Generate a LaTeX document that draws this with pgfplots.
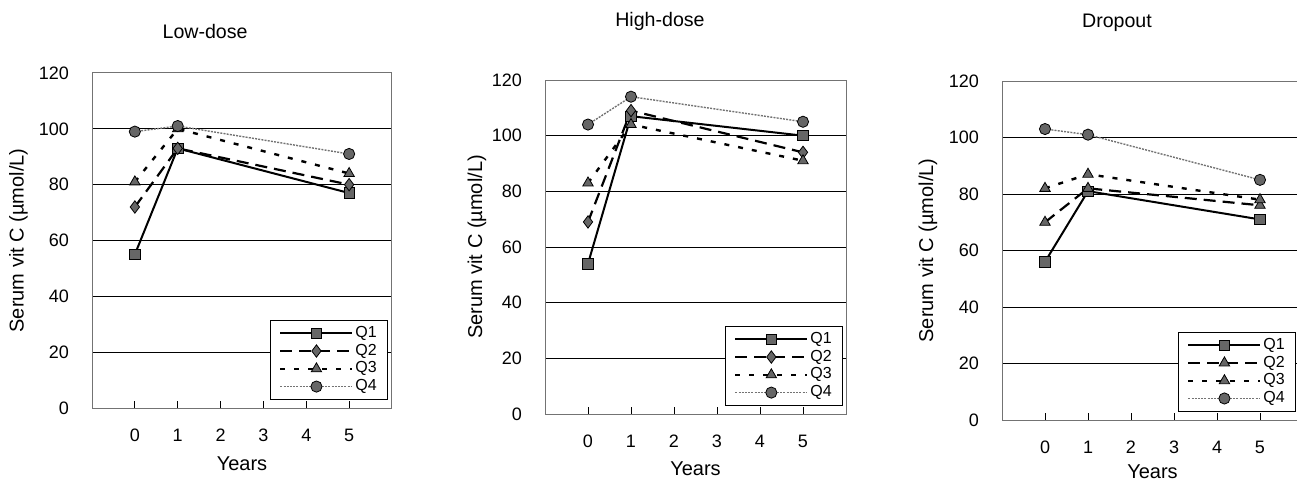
\documentclass[border=0pt]{standalone}
\usepackage{fontspec}
\setmainfont{Liberation Sans}
\usepackage{pgfplots}
\pgfplotsset{compat=1.18}

\pgfplotsset{
  vitc/.style={
    scale only axis, width=150pt, height=167.5pt,
    xmin=-1, xmax=6, ymin=0, ymax=120,
    xtick={0,...,5}, ytick={0,20,...,120},
    ymajorgrids, grid style={black, line width=0.5pt},
    axis line style={black!55, line width=0.5pt},
    tick align=inside, tick pos=left, major tick length=3.5pt,
    ytick style={draw=none}, xtick style={black, line width=0.5pt},
    tick label style={font=\fontsize{9}{10}\selectfont},
    /pgf/number format/assume math mode=true,
    xticklabel style={yshift=-7pt},
    yticklabel style={xshift=-8pt},
    label style={font=\fontsize{10}{11}\selectfont},
    xlabel=Years,
    xlabel style={at={(axis description cs:0.5,-0.165)}, anchor=center},
    ylabel={Serum vit C (µmol/L)},
    every axis title shift=0pt,
    title style={font=\fontsize{9.8}{11}\selectfont, anchor=center, yshift=0pt},
    legend cell align=left,
    legend style={draw=black, line width=0.5pt, font=\fontsize{8}{8.5}\selectfont,
      anchor=south east, nodes={inner sep=0.9pt}, row sep=0pt,
      inner xsep=4.5pt, inner ysep=2pt},
    legend image code/.code={\draw[mark repeat=2,mark phase=2,##1]
      plot coordinates {(0pt,0pt) (18pt,0pt) (36pt,0pt)};},
  },
  q1/.style={black, line width=1pt, mark=square*, mark size=2.6pt,
    mark options={solid, fill=black!60, draw=black, line width=0.4pt}},
  q2/.style={black, line width=1.1pt, dash pattern=on 6pt off 3.5pt, mark=diamond*, mark size=3.1pt,
    mark options={solid, fill=black!60, draw=black, line width=0.4pt}},
  q3/.style={black, line width=1.2pt, dash pattern=on 2.5pt off 4.5pt, mark=triangle*, mark size=3pt,
    mark options={solid, fill=black!60, draw=black, line width=0.4pt}},
  q4/.style={black!55, line width=0.7pt, dash pattern=on 1pt off 0.6pt, mark=*, mark size=2.8pt,
    mark options={solid, fill=black!60, draw=black, line width=0.4pt}},
}

\begin{document}
\begin{tikzpicture}
\useasboundingbox (0,0) rectangle (648.5pt,241.5pt);
\clip (0,0) rectangle (648.5pt,241.5pt);

% Low-dose
\begin{axis}[vitc, at={(46pt,37.5pt)}, anchor=south west,
    width=150pt, height=167.5pt,
    title={Low-dose}, title style={at={(axis description cs:0.377,1.125)}},
    ylabel style={at={(axis description cs:-0.245,0.5)}, anchor=center},
    legend style={at={(axis description cs:0.987,0.024)}}]
  \addplot[q1] coordinates {(0,55) (1,93) (5,77)};
  \addplot[q2] coordinates {(0,72) (1,93) (5,80)};
  \addplot[q3] coordinates {(0,81) (1,100) (5,84)};
  \addplot[q4] coordinates {(0,99) (1,101) (5,91)};
  \legend{Q1,Q2,Q3,Q4}
\end{axis}

% High-dose
\begin{axis}[vitc, at={(272.5pt,34.5pt)}, anchor=south west,
    width=150.5pt, height=167pt,
    title={High-dose}, title style={at={(axis description cs:0.382,1.174)}},
    ylabel style={at={(axis description cs:-0.226,0.5)}, anchor=center},
    legend style={at={(axis description cs:0.990,0.024)}}]
  \addplot[q1] coordinates {(0,54) (1,107) (5,100)};
  \addplot[q2] coordinates {(0,69) (1,109) (5,94)};
  \addplot[q3] coordinates {(0,83) (1,104) (5,91)};
  \addplot[q4] coordinates {(0,104) (1,114) (5,105)};
  \legend{Q1,Q2,Q3,Q4}
\end{axis}

% Dropout
\begin{axis}[vitc, at={(501pt,31.5pt)}, anchor=south west,
    width=150.5pt, height=169.5pt,
    title={Dropout}, title style={at={(axis description cs:0.382,1.171)}},
    xlabel style={at={(axis description cs:0.5,-0.152)}},
    ylabel style={at={(axis description cs:-0.246,0.5)}, anchor=center},
    legend style={at={(axis description cs:0.977,0.024)}}]
  \addplot[q1] coordinates {(0,56) (1,81) (5,71)};
  \addplot[q2, mark=triangle*, mark size=3pt] coordinates {(0,70) (1,82) (5,76)};
  \addplot[q3] coordinates {(0,82) (1,87) (5,78)};
  \addplot[q4] coordinates {(0,103) (1,101) (5,85)};
  \legend{Q1,Q2,Q3,Q4}
\end{axis}
\end{tikzpicture}
\end{document}
